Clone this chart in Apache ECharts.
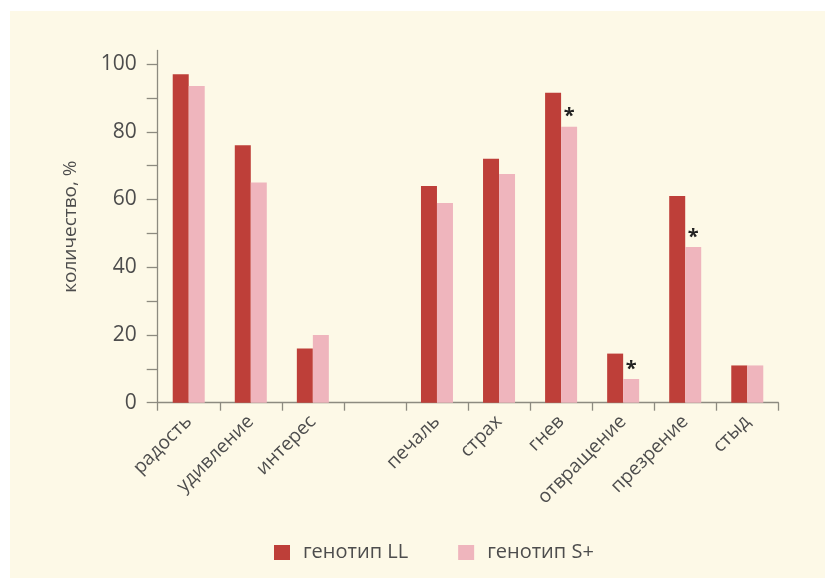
<!DOCTYPE html>
<html>
<head>
<meta charset="utf-8">
<script src="https://cdn.jsdelivr.net/npm/echarts@6/dist/echarts.min.js"></script>
<style>
  html, body { margin: 0; padding: 0; background: #ffffff; }
  #panel { position: absolute; left: 10px; top: 11px; width: 815px; height: 567px; background: #fdf9e7; }
  #chart { position: absolute; left: 0; top: 0; width: 825px; height: 579px; }
</style>
</head>
<body>
<div id="panel"></div>
<div id="chart"></div>
<script>
// Emotions (one empty slot separates the two groups on the axis)
const categories = ['радость', 'удивление', 'интерес', '', 'печаль', 'страх', 'гнев', 'отвращение', 'презрение', 'стыд'];
// Share of subjects, %
const genotypeLL = [97, 76, 16, null, 64, 72, 91.5, 14.5, 61, 11];
const genotypeS = [93.5, 65, 20, null, 59, 67.5, 81.5, 7, 46, 11];
// Significant differences between genotypes
const significant = [false, false, false, false, false, false, true, true, true, false];
// Y-axis ticks and labels
const yTickValues = [0, 10, 20, 30, 40, 50, 60, 70, 80, 90, 100];
const yLabelValues = [0, 20, 40, 60, 80, 100];

const axisColor = '#8d8b80';
const textColor = '#4d4d4d';
const fontFamily = '"Open Sans", "Noto Sans", sans-serif';

const chart = echarts.init(document.getElementById('chart'), null, { renderer: 'canvas' });
chart.setOption({
  backgroundColor: 'transparent',
  animation: false,
  textStyle: { fontFamily: fontFamily },
  grid: { left: 157.7, right: 46.7, top: 50.5, bottom: 176.3, containLabel: false },
  legend: {
    left: 269,
    top: 537.5,
    itemWidth: 16,
    itemHeight: 15,
    itemGap: 50,
    icon: 'rect',
    textStyle: { color: textColor, fontSize: 20, fontFamily: fontFamily, padding: [0, 0, 0, 8] },
    data: ['генотип LL', 'генотип S+']
  },
  xAxis: {
    type: 'category',
    data: categories,
    axisLine: { lineStyle: { color: axisColor, width: 1.3 } },
    axisTick: { show: true, length: 8, alignWithLabel: false, lineStyle: { color: axisColor, width: 1.3 } },
    axisLabel: { rotate: 45, margin: 16, interval: 0, color: textColor, fontSize: 19, fontFamily: fontFamily }
  },
  yAxis: {
    type: 'value',
    min: 0,
    max: 104,
    name: 'количество, %',
    nameLocation: 'middle',
    nameGap: 78,
    nameRotate: 90,
    nameTextStyle: { color: textColor, fontSize: 19, fontFamily: fontFamily },
    splitLine: { show: false },
    axisLine: { show: true, lineStyle: { color: axisColor, width: 1.3 } },
    axisTick: { show: true, length: 11, inside: false, customValues: yTickValues, lineStyle: { color: axisColor, width: 1.3 } },
    axisLabel: { margin: 21, color: textColor, fontSize: 21, fontFamily: fontFamily, customValues: yLabelValues }
  },
  series: [
    {
      name: 'генотип LL',
      type: 'bar',
      data: genotypeLL,
      barWidth: 16,
      barGap: '0%',
      itemStyle: { color: '#be3f39' }
    },
    {
      name: 'генотип S+',
      type: 'bar',
      data: genotypeS,
      barWidth: 16,
      barGap: '0%',
      itemStyle: { color: '#efb5bd' },
      label: {
        show: true,
        position: 'top',
        distance: 0,
        color: '#222222',
        fontSize: 20,
        fontWeight: 'bold',
        formatter: function (p) { return significant[p.dataIndex] ? '*' : ''; }
      }
    }
  ]
});
</script>
</body>
</html>
